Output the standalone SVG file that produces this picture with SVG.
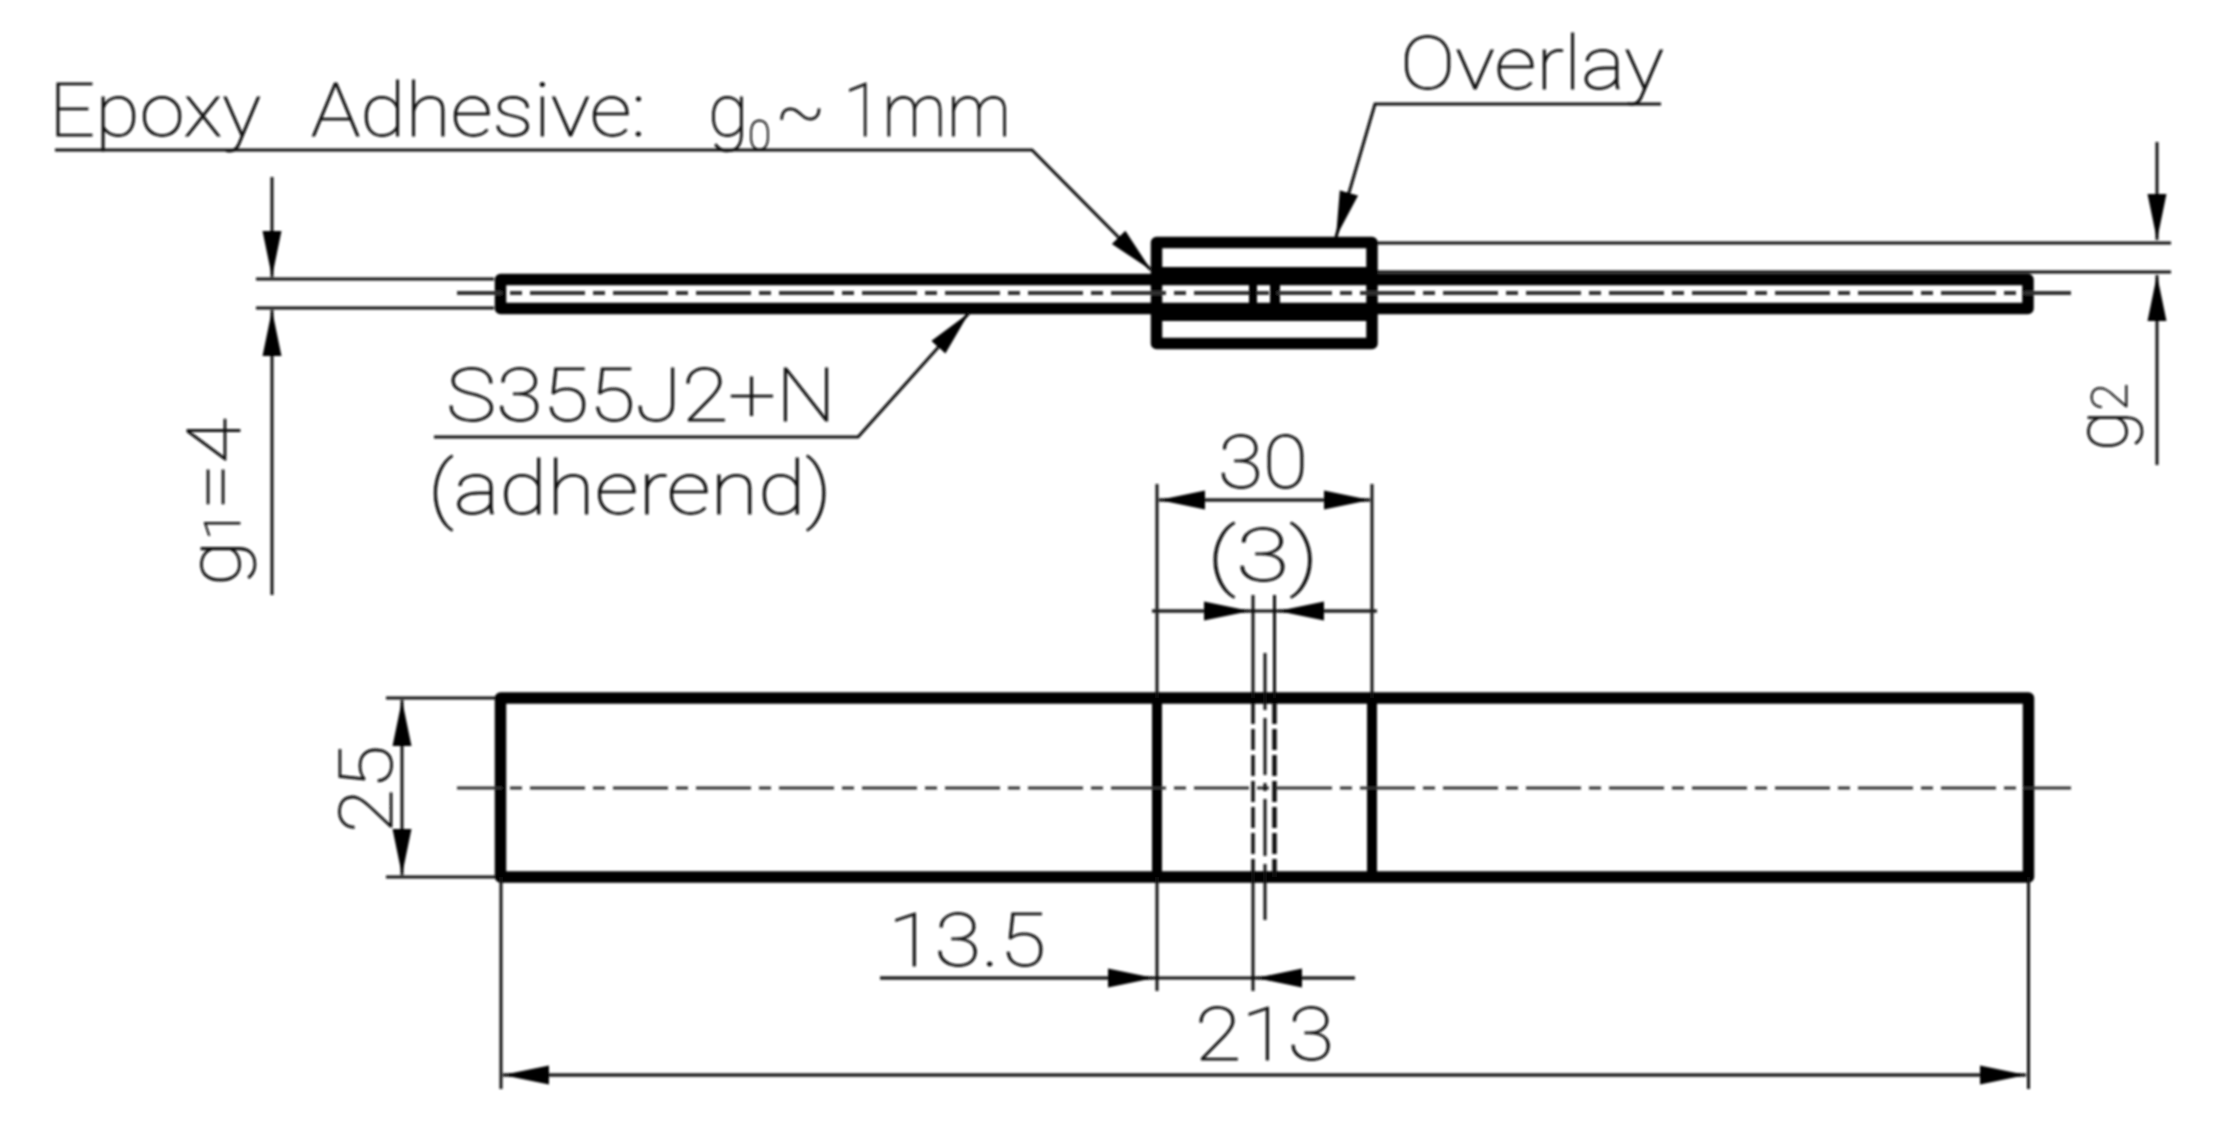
<svg xmlns="http://www.w3.org/2000/svg" width="2214" height="1125" viewBox="0 0 2214 1125">
<defs>
<marker id="arrow" markerUnits="userSpaceOnUse" markerWidth="48" markerHeight="22" viewBox="0 -11 48 22" refX="46" refY="0" orient="auto-start-reverse"><path d="M0,-9.5 L46,0 L0,9.5Z" fill="#000"/></marker>
<filter id="soft" x="0" y="0" width="2214" height="1125" filterUnits="userSpaceOnUse" primitiveUnits="userSpaceOnUse"><feGaussianBlur stdDeviation="0.8"/></filter>
</defs>
<style>
.thick{fill:none;stroke:#000;stroke-width:11.5;stroke-linejoin:round}
.thin{fill:none;stroke:#111;stroke-width:3}
.dim{fill:none;stroke:#222;stroke-width:3.5}
.center{fill:none;stroke:#333;stroke-width:3;stroke-dasharray:55 8 12 8;}
.t{font-family:Roboto,"Liberation Sans",sans-serif;font-weight:100;font-size:74px;fill:#111;stroke:#111;stroke-width:0.8}
</style>
<rect width="2214" height="1125" fill="#fff"/>
<g filter="url(#soft)">
<g id="top-view">
<g id="overlay"><rect class="thick" x="1156.5" y="242.5" width="215.5" height="101"/><rect x="1152" y="267" width="225" height="18"/><rect x="1152" y="303" width="225" height="18"/></g>
<g id="adherend-top"><rect class="thick" x="500.5" y="279.5" width="1527.5" height="29"/>
<rect x="1249" y="285" width="8" height="18"/><rect x="1270" y="285" width="10" height="18"/>
<path class="center" style="stroke-width:4;stroke-dashoffset:10" d="M457,293 H2071"/></g>
</g>
<g id="bottom-view">
<rect class="thick" x="500.5" y="698" width="1528" height="179"/>
<path class="thick" style="stroke-width:10" d="M1157,698 V877 M1372,698 V877"/>
<path class="center" style="stroke-dashoffset:10" d="M457,788 H2071"/>
<path class="thin" d="M1265,653 V920" style="stroke-dasharray:57 8 57 8 8 8 57 8 57"/>
<path class="thin" d="M1253,698 V877" style="stroke-width:3.5;stroke-dasharray:21 5;stroke-dashoffset:-5"/>
<path class="thin" d="M1274.5,698 V877" style="stroke-width:4.5;stroke-dasharray:21 5;stroke-dashoffset:-5"/>
</g>
<g id="connectors">
<path class="thin" marker-end="url(#arrow)" d="M55,150 H1032 L1151,270"/>
<path class="thin" marker-end="url(#arrow)" d="M1661,104 H1375 L1336,237"/>
<path class="thin" marker-end="url(#arrow)" d="M434,437 H858 L969,313"/>
<path class="thin" d="M256,279 H494 M256,308 H494"/>
<path class="thin" marker-end="url(#arrow)" d="M272,177 V277"/>
<path class="thin" marker-end="url(#arrow)" d="M272,595 V310"/>
<path class="thin" d="M1377,243 H2171 M1377,272 H2171"/>
<path class="thin" marker-end="url(#arrow)" d="M2157,142 V240"/>
<path class="thin" marker-end="url(#arrow)" d="M2157,465 V275"/>
<path class="thin" d="M1157,484 V698 M1157,877 V991 M1372,484 V698 M1253,595 V698 M1253,877 V991 M1274.5,595 V698"/>
<path class="dim" marker-start="url(#arrow)" marker-end="url(#arrow)" d="M1159,500 H1370"/>
<path class="dim" marker-end="url(#arrow)" d="M1152,611 H1250"/>
<path class="dim" marker-end="url(#arrow)" d="M1377,611 H1278"/>
<path class="thin" d="M1250,611 H1278"/>
<path class="thin" d="M386,698 H496 M386,877 H496"/>
<path class="thin" marker-start="url(#arrow)" marker-end="url(#arrow)" d="M402,700 V875"/>
<path class="dim" marker-end="url(#arrow)" d="M880,978 H1154"/>
<path class="dim" marker-end="url(#arrow)" d="M1355,978 H1256"/>
<path class="thin" d="M1154,978 H1256"/>
<path class="thin" d="M501,877 V1089 M2028.5,877 V1089"/>
<path class="dim" marker-start="url(#arrow)" marker-end="url(#arrow)" d="M503,1075 H2026"/>
</g>
<g id="labels">
<text class="t" y="136"><tspan x="49" textLength="212" lengthAdjust="spacingAndGlyphs">Epoxy</tspan> <tspan x="311" textLength="335" lengthAdjust="spacingAndGlyphs">Adhesive:</tspan> <tspan x="708">g</tspan><tspan x="748" y="150" font-size="42">0</tspan><tspan x="775" y="136">~</tspan><tspan x="843" textLength="168" lengthAdjust="spacingAndGlyphs">1mm</tspan></text>
<text class="t" x="1400" y="89" textLength="264" lengthAdjust="spacingAndGlyphs">Overlay</text>
<text class="t" x="446" y="421" textLength="390" lengthAdjust="spacingAndGlyphs">S355J2+N</text>
<text class="t" x="428" y="514" textLength="404" lengthAdjust="spacingAndGlyphs">(adherend)</text>
<text class="t" transform="translate(240,586) rotate(-90)" textLength="168" lengthAdjust="spacingAndGlyphs">g<tspan font-size="50">1</tspan>=4</text>
<text class="t" transform="translate(2127,451) rotate(-90)">g<tspan font-size="50">2</tspan></text>
<text class="t" x="1218" y="488" textLength="90" lengthAdjust="spacingAndGlyphs">30</text>
<text class="t" x="1207" y="581" textLength="112" lengthAdjust="spacingAndGlyphs">(3)</text>
<text class="t" transform="translate(392,833) rotate(-90)" textLength="88" lengthAdjust="spacingAndGlyphs">25</text>
<text class="t" x="888" y="966" textLength="158" lengthAdjust="spacingAndGlyphs">13.5</text>
<text class="t" x="1195" y="1060" textLength="139" lengthAdjust="spacingAndGlyphs">213</text>
</g>
</g>
</svg>
